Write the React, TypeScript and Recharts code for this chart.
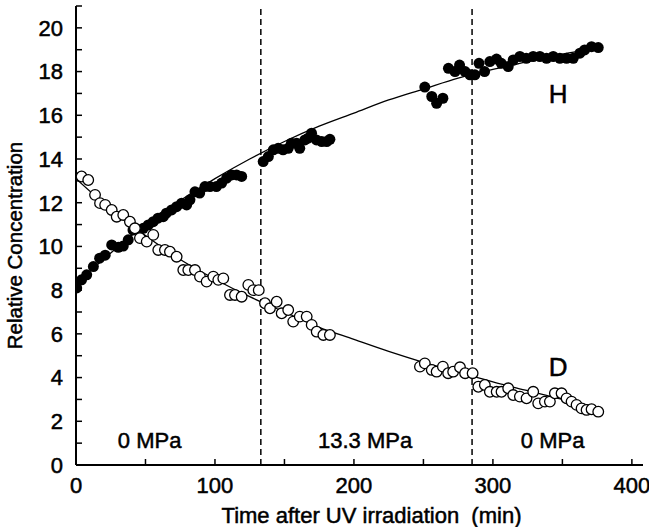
import { ComposedChart, Scatter, Line, XAxis, YAxis, ReferenceLine, ReferenceDot, Label } from 'recharts';

// H (filled circles)
const hTimes = [0.5, 4, 7.7, 12.5, 17, 21, 25.7, 30.4, 34, 37.6, 41, 45, 48.4, 52, 55.6, 59, 62.8, 65, 68.8, 72.4, 76, 79.6, 82, 85.6, 89, 92.8, 96.4, 101, 104.8, 108.4, 112, 115.6, 119.2,
  134.7, 138.4, 142, 145.5, 149, 152.7, 155, 158.8, 161, 164.7, 167, 169.5, 173, 176.8, 180.4, 182.7,
  251, 256, 259.5, 264, 268, 272.7, 276, 280, 283.5, 287, 290, 294, 297.8, 302.6, 306, 311, 314.6, 319.4, 324, 329, 333.8, 338.6, 343.4, 348.2, 353, 357.8, 362.6, 366, 371, 375.8];
const hValues = [8.1, 8.47, 8.7, 9.08, 9.46, 9.6, 10.07, 9.96, 10.02, 10.3, 10.75, 10.75, 10.83, 10.98, 11.13, 11.29, 11.36, 11.52, 11.67, 11.82, 11.98, 11.9, 12.13, 12.5, 12.44, 12.74, 12.74, 12.74, 12.9, 13.12, 13.27, 13.27, 13.2,
  13.88, 14.11, 14.42, 14.49, 14.42, 14.49, 14.72, 14.72, 14.49, 14.87, 14.95, 15.18, 14.87, 14.8, 14.8, 14.9,
  17.29, 16.86, 16.55, 16.78, 18.15, 18.0, 18.3, 18.0, 17.85, 17.85, 18.38, 18.0, 18.46, 18.57, 18.38, 18.23, 18.53, 18.69, 18.61, 18.69, 18.69, 18.61, 18.69, 18.61, 18.61, 18.61, 18.84, 18.99, 19.14, 19.1];

// D (open circles)
const dTimes = [4, 8.8, 13.7, 17.3, 21, 25.7, 29.3, 34, 38.8, 42.4, 46, 50.9, 55.6, 59.2, 64, 67.6, 72.4, 77.2, 80.8, 85.6, 89.2, 94, 98.8, 102.4, 106, 110.8, 114.4, 119.2, 124, 127.6, 131.5,
  136, 139.6, 144.4, 148, 152.7, 156.3, 161, 166, 169.6, 173.2, 178, 182.7,
  247.5, 251, 256, 259.5, 264, 267.8, 271.4, 276.3, 280, 285.4,
  289.5, 294.2, 297.8, 302.7, 306.2, 311, 314.6, 319.4, 324.2, 329, 332.6, 337.4, 341, 344.6, 349.4, 353, 356.6, 360.2, 363.8, 367.4, 371, 375.8];
const dValues = [13.2, 13.04, 12.36, 11.98, 11.9, 11.67, 11.36, 11.44, 11.13, 10.83, 10.38, 10.22, 10.53, 9.84, 9.84, 9.76, 9.53, 8.92, 8.92, 8.92, 8.62, 8.39, 8.62, 8.47, 8.54, 7.78, 7.78, 7.7, 8.24, 8.0, 8.0,
  7.4, 7.17, 7.47, 6.94, 7.09, 6.56, 6.79, 6.79, 6.41, 6.1, 5.95, 5.95,
  4.5, 4.65, 4.35, 4.27, 4.5, 4.2, 4.27, 4.47, 4.2, 4.2,
  3.58, 3.66, 3.35, 3.35, 3.35, 3.51, 3.2, 3.13, 3.05, 3.35, 2.82, 2.9, 2.9, 3.28, 3.28, 3.05, 2.9, 2.75, 2.59, 2.52, 2.55, 2.44];

// fitted curves
const fitTimes = [0, 25, 50, 75, 100, 125, 150, 175, 200, 225, 250, 275, 300, 325, 350, 375];
const hFitValues = [8.3, 9.7, 11.0, 12.1, 13.1, 14.0, 14.8, 15.5, 16.1, 16.7, 17.2, 17.7, 18.1, 18.45, 18.8, 19.05];
const dFitValues = [13.1, 11.7, 10.5, 9.4, 8.5, 7.7, 7.0, 6.3, 5.75, 5.2, 4.7, 4.25, 3.8, 3.4, 3.0, 2.65];

const pressureSwitches = [133, 285];
const xTicks = [0, 50, 100, 150, 200, 250, 300, 350, 400];
const yTicks = Array.from({ length: 22 }, (_, i) => i);

const hPoints = hTimes.map((t, i) => ({ t, v: hValues[i] }));
const dPoints = dTimes.map((t, i) => ({ t, v: dValues[i] }));
const hFit = fitTimes.map((t, i) => ({ t, v: hFitValues[i] }));
const dFit = fitTimes.map((t, i) => ({ t, v: dFitValues[i] }));

const font = '"Liberation Sans", Arial, sans-serif';

const FilledDot = (p: any) => <circle cx={p.cx} cy={p.cy} r={5.5} fill="#000" />;
const OpenDot = (p: any) => <circle cx={p.cx} cy={p.cy} r={5.3} fill="#fff" stroke="#000" strokeWidth={1.3} />;

// the scanned original has slightly heavy lettering
const ink = { fill: '#000', stroke: '#000', strokeWidth: 0.5, fontFamily: font };
const tickStyle = { ...ink, fontSize: 22 };
const textLabel = (value: string, size: number) => ({ value, position: 'center' as const, ...ink, fontSize: size });

export default function App() {
  return (
    <div style={{ position: 'absolute', left: 0, top: 0, width: 649, height: 527, background: '#fff' }}>
      <ComposedChart width={649} height={527} margin={{ top: 6, right: 6, left: 0, bottom: 0 }}>
        <XAxis xAxisId="b" type="number" dataKey="t" domain={[0, 408]} allowDataOverflow ticks={xTicks}
          tickFormatter={(v: number) => (v % 100 === 0 ? String(v) : '')}
          height={62} tickSize={-6} tickMargin={18} tick={tickStyle}
          axisLine={{ stroke: '#000', strokeWidth: 2 }} tickLine={{ stroke: '#000', strokeWidth: 1.5 }}>
          <Label value={'Time after UV irradiation\u00a0 (min)'} position="insideBottom" offset={4} dx={12}
            style={{ ...ink, fontSize: 22 }} />
        </XAxis>
        <XAxis xAxisId="t" orientation="top" type="number" dataKey="t" domain={[0, 408]} allowDataOverflow ticks={xTicks}
          tickFormatter={() => ''} height={0} tickSize={-6} tickMargin={0}
          axisLine={{ stroke: '#000', strokeWidth: 2 }} tickLine={{ stroke: '#000', strokeWidth: 1.5 }} />
        <YAxis yAxisId="l" type="number" domain={[0, 21]} allowDataOverflow ticks={yTicks}
          tickFormatter={(v: number) => (v % 2 === 0 ? String(v) : '')}
          width={76} tickSize={-6} tickMargin={19} tick={tickStyle}
          axisLine={{ stroke: '#000', strokeWidth: 2 }} tickLine={{ stroke: '#000', strokeWidth: 1.5 }}>
          <Label value="Relative Concentration" angle={-90} position="center" dx={-23} dy={10}
            style={{ ...ink, fontSize: 20.5, textAnchor: 'middle' }} />
        </YAxis>
        <YAxis yAxisId="r" orientation="right" type="number" domain={[0, 21]} allowDataOverflow ticks={yTicks}
          tickFormatter={() => ''} width={0} tickSize={-6} tickMargin={0}
          axisLine={{ stroke: '#000', strokeWidth: 2 }} tickLine={{ stroke: '#000', strokeWidth: 1.5 }} />

        {pressureSwitches.map((x) => (
          <ReferenceLine key={x} x={x} xAxisId="b" yAxisId="l" stroke="#000" strokeWidth={1.5} strokeDasharray="6 4" />
        ))}

        <Scatter xAxisId="b" yAxisId="l" data={hPoints} dataKey="v" shape={FilledDot} isAnimationActive={false} />
        <Scatter xAxisId="b" yAxisId="l" data={dPoints} dataKey="v" shape={OpenDot} isAnimationActive={false} />
        <Line xAxisId="b" yAxisId="l" data={hFit} dataKey="v" type="monotone" dot={false} activeDot={false}
          stroke="#000" strokeWidth={1.3} isAnimationActive={false} />
        <Line xAxisId="b" yAxisId="l" data={dFit} dataKey="v" type="monotone" dot={false} activeDot={false}
          stroke="#000" strokeWidth={1.3} isAnimationActive={false} />

        <ReferenceDot xAxisId="b" yAxisId="l" x={53} y={1.15} r={0} fill="none" stroke="none" label={textLabel('0 MPa', 22)} />
        <ReferenceDot xAxisId="b" yAxisId="l" x={208} y={1.15} r={0} fill="none" stroke="none" label={textLabel('13.3 MPa', 22)} />
        <ReferenceDot xAxisId="b" yAxisId="l" x={343} y={1.15} r={0} fill="none" stroke="none" label={textLabel('0 MPa', 22)} />
        <ReferenceDot xAxisId="b" yAxisId="l" x={347} y={17.0} r={0} fill="none" stroke="none" label={textLabel('H', 26)} />
        <ReferenceDot xAxisId="b" yAxisId="l" x={347} y={4.5} r={0} fill="none" stroke="none" label={textLabel('D', 26)} />
      </ComposedChart>
    </div>
  );
}
